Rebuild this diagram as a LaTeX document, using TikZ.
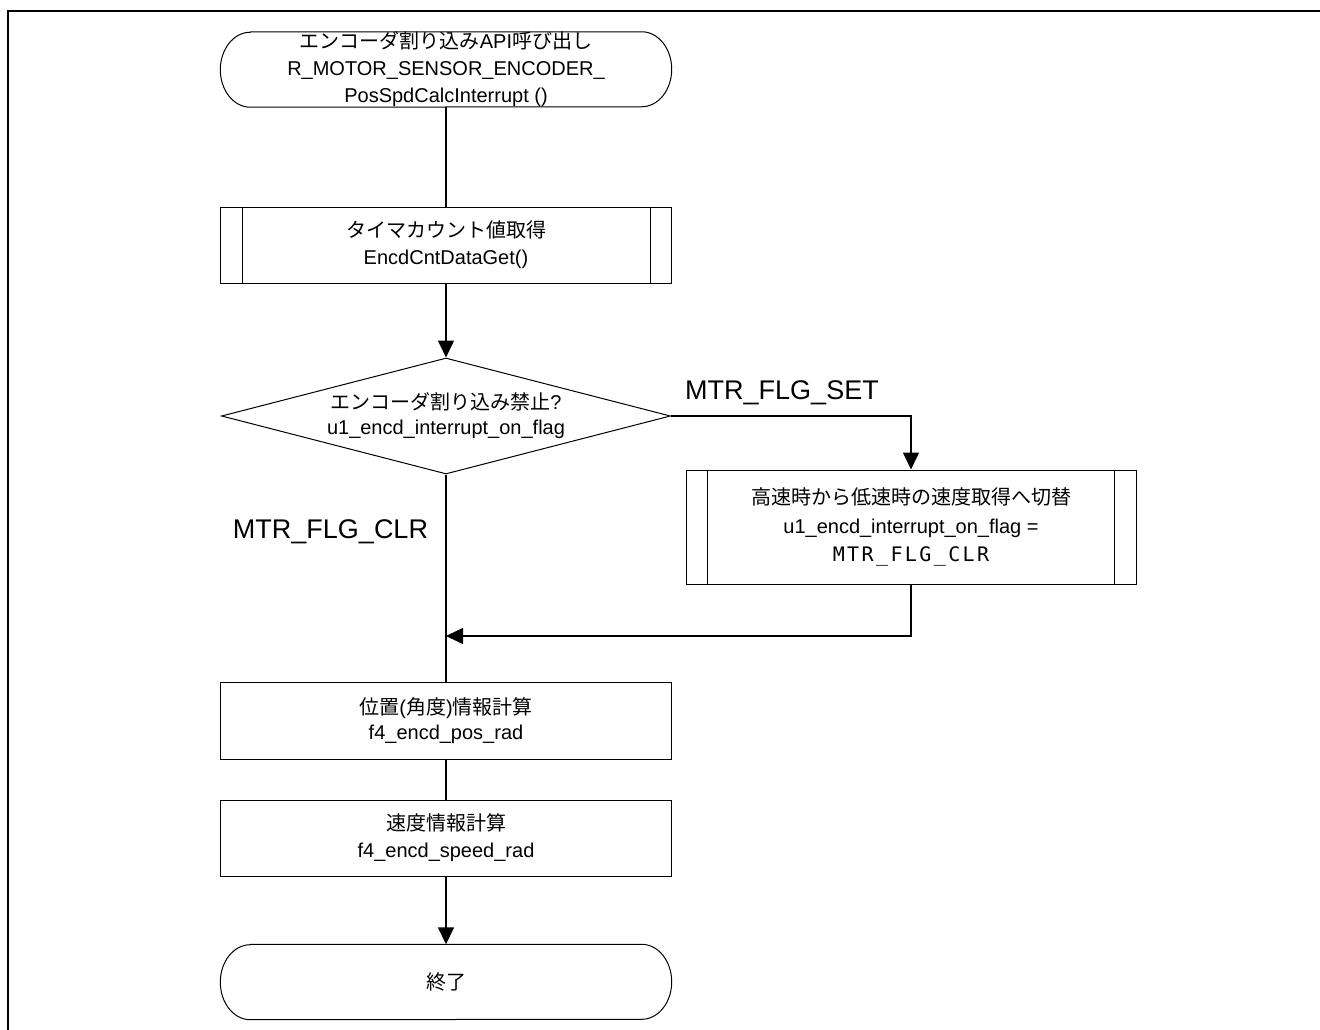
\documentclass[tikz,border=0pt]{standalone}
\usepackage{fontspec}
\setmainfont{Liberation Sans}
\newfontfamily\jpf{Noto Sans CJK JP}
\newfontfamily\monof[LetterSpace=12]{DejaVu Sans Mono}
\usetikzlibrary{shapes.geometric,arrows.meta}
\newcommand\termoutline[1]{\draw[line width=1pt] ([xshift=30pt]#1.north west) -- ([xshift=-30pt]#1.north east) arc[start angle=90,end angle=-90,x radius=30pt,y radius=37.5pt] -- ([xshift=30pt]#1.south west) arc[start angle=270,end angle=90,x radius=30pt,y radius=37.5pt] -- cycle;}
\newcommand\subinner[1]{\draw[line width=1pt] ([xshift=22pt]#1.north west) -- ([xshift=22pt]#1.south west) ([xshift=-22pt]#1.north east) -- ([xshift=-22pt]#1.south east);}
\begin{document}
\begin{tikzpicture}[x=1pt,y=-1pt,
  every node/.style={font=\fontsize{20pt}{27pt}\selectfont, inner sep=0pt, align=center},
  box/.style={draw, line width=1pt, minimum width=451pt, minimum height=76pt},
  termbox/.style={minimum width=451pt, minimum height=75pt},
  lbl/.style={font=\fontsize{27pt}{32pt}\selectfont},
  conn/.style={line width=1.5pt},
  arr/.style={conn, -{Triangle[length=17pt,width=16pt]}}]
\useasboundingbox (0,0) rectangle (1320,1030);
% frame
\draw[line width=2.5pt] (8,1040) -- (8,11) -- (1330,11);
% nodes
\node[termbox] (start) at (446,69.5) {{\jpf エンコーダ割り込み}API{\jpf 呼び出し}\\R\_MOTOR\_SENSOR\_ENCODER\_\\PosSpdCalcInterrupt ()};
\termoutline{start}
\node[box] (sub1) at (446,245) {{\jpf タイマカウント値取得}\\EncdCntDataGet()};
\subinner{sub1}
\node[diamond, draw, line width=1pt, minimum width=449pt, minimum height=116pt, aspect=3.87] (dec) at (446,416) {};
\node[font=\fontsize{20pt}{25pt}\selectfont] (dectext) at (dec.center) {{\jpf エンコーダ割り込み禁止}?\\u1\_encd\_interrupt\_on\_flag};
\node[lbl] (lset) at (782,393) {MTR\_FLG\_SET};
\node[box, minimum width=450pt, minimum height=114pt, font=\fontsize{20pt}{28.5pt}\selectfont] (sub2) at (911,527) {{\jpf 高速時から低速時の速度取得へ切替}\\u1\_encd\_interrupt\_on\_flag =\\{\monof MTR\_FLG\_CLR}};
\subinner{sub2}
\node[lbl] (lclr) at (330.5,532) {MTR\_FLG\_CLR};
\coordinate (merge) at (446,636);
\node[box, minimum height=77pt, font=\fontsize{20pt}{25pt}\selectfont] (box3) at (446,720.5) {{\jpf 位置}({\jpf 角度}){\jpf 情報計算}\\f4\_encd\_pos\_rad};
\node[box] (box4) at (446,838) {{\jpf 速度情報計算}\\f4\_encd\_speed\_rad};
\node[termbox] (end) at (446,982) {{\jpf 終了}};
\termoutline{end}
% connectors
\draw[conn] (start) -- (sub1);
\draw[arr] (sub1) -- (dec);
\draw[conn] (dec.south) -- (box3.north);
\draw[arr] (dec.east) -| (sub2.north);
\draw[arr] (sub2.south) |- (merge);
\draw[conn] (box3) -- (box4);
\draw[arr] (box4) -- (end);
\end{tikzpicture}
\end{document}
